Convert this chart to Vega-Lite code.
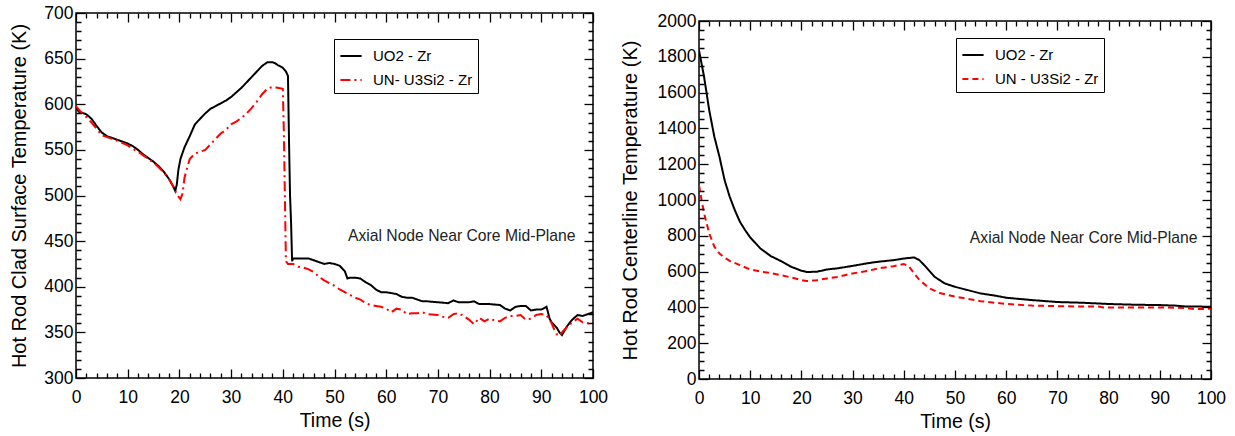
{
"$schema": "https://vega.github.io/schema/vega-lite/v6.json",
"padding": {"left": 9, "top": 3, "right": 0, "bottom": 0},
"spacing": 10,
"config": {
  "font": "Liberation Sans",
  "view": {"stroke": "black", "strokeWidth": 1.5},
  "axis": {"grid": false, "domain": false, "ticks": true, "tickColor": "#000000", "tickWidth": 1.3, "tickSize": 9, "labelColor": "black", "titleColor": "black", "labelFont": "Liberation Sans", "labelFontSize": 17.5, "titleFont": "Liberation Sans", "titleFontWeight": "normal", "titleFontSize": 20, "labelFlush": false, "labelOverlap": false},
  "legend": {"orient": "none", "title": null, "strokeColor": "black", "fillColor": "white", "padding": 5, "symbolType": "stroke", "symbolSize": 450, "symbolStrokeWidth": 2, "labelFontSize": 15, "labelFont": "Liberation Sans", "labelColor": "black", "rowPadding": 4, "labelOffset": 10}
},
"resolve": {"scale": {"color": "independent", "strokeDash": "independent", "x": "independent", "y": "independent"}},
"hconcat": [
{
  "width": 517, "height": 365,
  "resolve": {"axis": {"x": "independent", "y": "independent"}},
  "layer": [
    {
      "data": {"values": [
{"t":0,"temp":597,"series":"UO2 - Zr"},{"t":0.5,"temp":592,"series":"UO2 - Zr"},{"t":2,"temp":589,"series":"UO2 - Zr"},{"t":3,"temp":584,"series":"UO2 - Zr"},{"t":4,"temp":576,"series":"UO2 - Zr"},{"t":5,"temp":569,"series":"UO2 - Zr"},{"t":6,"temp":565,"series":"UO2 - Zr"},{"t":7,"temp":563,"series":"UO2 - Zr"},{"t":8,"temp":561,"series":"UO2 - Zr"},{"t":10,"temp":557,"series":"UO2 - Zr"},{"t":11,"temp":554,"series":"UO2 - Zr"},{"t":12,"temp":550,"series":"UO2 - Zr"},{"t":13,"temp":545,"series":"UO2 - Zr"},{"t":14,"temp":541,"series":"UO2 - Zr"},{"t":15,"temp":537,"series":"UO2 - Zr"},{"t":16,"temp":532,"series":"UO2 - Zr"},{"t":17,"temp":526,"series":"UO2 - Zr"},{"t":18,"temp":518,"series":"UO2 - Zr"},{"t":18.8,"temp":510,"series":"UO2 - Zr"},{"t":19.2,"temp":505,"series":"UO2 - Zr"},{"t":19.5,"temp":512,"series":"UO2 - Zr"},{"t":19.8,"temp":528,"series":"UO2 - Zr"},{"t":20.2,"temp":540,"series":"UO2 - Zr"},{"t":21,"temp":553,"series":"UO2 - Zr"},{"t":22,"temp":565,"series":"UO2 - Zr"},{"t":23,"temp":578,"series":"UO2 - Zr"},{"t":24,"temp":584,"series":"UO2 - Zr"},{"t":25,"temp":590,"series":"UO2 - Zr"},{"t":26,"temp":595,"series":"UO2 - Zr"},{"t":27,"temp":598,"series":"UO2 - Zr"},{"t":28,"temp":601,"series":"UO2 - Zr"},{"t":29,"temp":604,"series":"UO2 - Zr"},{"t":30,"temp":608,"series":"UO2 - Zr"},{"t":31,"temp":613,"series":"UO2 - Zr"},{"t":32,"temp":618,"series":"UO2 - Zr"},{"t":33,"temp":624,"series":"UO2 - Zr"},{"t":34,"temp":630,"series":"UO2 - Zr"},{"t":35,"temp":636,"series":"UO2 - Zr"},{"t":36,"temp":642,"series":"UO2 - Zr"},{"t":37,"temp":646,"series":"UO2 - Zr"},{"t":38,"temp":646,"series":"UO2 - Zr"},{"t":38.5,"temp":645,"series":"UO2 - Zr"},{"t":39,"temp":643,"series":"UO2 - Zr"},{"t":40,"temp":640,"series":"UO2 - Zr"},{"t":40.6,"temp":636,"series":"UO2 - Zr"},{"t":41,"temp":631,"series":"UO2 - Zr"},{"t":41.2,"temp":560,"series":"UO2 - Zr"},{"t":41.4,"temp":500,"series":"UO2 - Zr"},{"t":41.6,"temp":470,"series":"UO2 - Zr"},{"t":41.8,"temp":428,"series":"UO2 - Zr"},{"t":42,"temp":431,"series":"UO2 - Zr"},{"t":43,"temp":431,"series":"UO2 - Zr"},{"t":44,"temp":431,"series":"UO2 - Zr"},{"t":45,"temp":431,"series":"UO2 - Zr"},{"t":46,"temp":429,"series":"UO2 - Zr"},{"t":47,"temp":427,"series":"UO2 - Zr"},{"t":48,"temp":425,"series":"UO2 - Zr"},{"t":49,"temp":426,"series":"UO2 - Zr"},{"t":50,"temp":425,"series":"UO2 - Zr"},{"t":51,"temp":423,"series":"UO2 - Zr"},{"t":52,"temp":417,"series":"UO2 - Zr"},{"t":52.5,"temp":409,"series":"UO2 - Zr"},{"t":53,"temp":410,"series":"UO2 - Zr"},{"t":54,"temp":410,"series":"UO2 - Zr"},{"t":55,"temp":409,"series":"UO2 - Zr"},{"t":56,"temp":405,"series":"UO2 - Zr"},{"t":57,"temp":402,"series":"UO2 - Zr"},{"t":58,"temp":397,"series":"UO2 - Zr"},{"t":59,"temp":394,"series":"UO2 - Zr"},{"t":60,"temp":394,"series":"UO2 - Zr"},{"t":61,"temp":393,"series":"UO2 - Zr"},{"t":62,"temp":392,"series":"UO2 - Zr"},{"t":63,"temp":389,"series":"UO2 - Zr"},{"t":64,"temp":388,"series":"UO2 - Zr"},{"t":65,"temp":388,"series":"UO2 - Zr"},{"t":66,"temp":386,"series":"UO2 - Zr"},{"t":67,"temp":384,"series":"UO2 - Zr"},{"t":68,"temp":384,"series":"UO2 - Zr"},{"t":70,"temp":383,"series":"UO2 - Zr"},{"t":72,"temp":382,"series":"UO2 - Zr"},{"t":73,"temp":385,"series":"UO2 - Zr"},{"t":74,"temp":383,"series":"UO2 - Zr"},{"t":75,"temp":383,"series":"UO2 - Zr"},{"t":76,"temp":383,"series":"UO2 - Zr"},{"t":77,"temp":384,"series":"UO2 - Zr"},{"t":78,"temp":381,"series":"UO2 - Zr"},{"t":80,"temp":381,"series":"UO2 - Zr"},{"t":82,"temp":380,"series":"UO2 - Zr"},{"t":83,"temp":376,"series":"UO2 - Zr"},{"t":84,"temp":374,"series":"UO2 - Zr"},{"t":85,"temp":378,"series":"UO2 - Zr"},{"t":86,"temp":379,"series":"UO2 - Zr"},{"t":87,"temp":379,"series":"UO2 - Zr"},{"t":88,"temp":374,"series":"UO2 - Zr"},{"t":89,"temp":375,"series":"UO2 - Zr"},{"t":90,"temp":375,"series":"UO2 - Zr"},{"t":91,"temp":378,"series":"UO2 - Zr"},{"t":91.3,"temp":372,"series":"UO2 - Zr"},{"t":91.6,"temp":365,"series":"UO2 - Zr"},{"t":92,"temp":361,"series":"UO2 - Zr"},{"t":92.5,"temp":358,"series":"UO2 - Zr"},{"t":93,"temp":355,"series":"UO2 - Zr"},{"t":93.5,"temp":350,"series":"UO2 - Zr"},{"t":94,"temp":347,"series":"UO2 - Zr"},{"t":94.5,"temp":352,"series":"UO2 - Zr"},{"t":95,"temp":357,"series":"UO2 - Zr"},{"t":96,"temp":364,"series":"UO2 - Zr"},{"t":97,"temp":369,"series":"UO2 - Zr"},{"t":98,"temp":368,"series":"UO2 - Zr"},{"t":99,"temp":370,"series":"UO2 - Zr"},{"t":100,"temp":372,"series":"UO2 - Zr"},
{"t":0,"temp":598,"series":"UN- U3Si2 - Zr"},{"t":1,"temp":591,"series":"UN- U3Si2 - Zr"},{"t":2,"temp":586,"series":"UN- U3Si2 - Zr"},{"t":3,"temp":580,"series":"UN- U3Si2 - Zr"},{"t":4,"temp":573,"series":"UN- U3Si2 - Zr"},{"t":5,"temp":566,"series":"UN- U3Si2 - Zr"},{"t":6,"temp":564,"series":"UN- U3Si2 - Zr"},{"t":7,"temp":562,"series":"UN- U3Si2 - Zr"},{"t":8,"temp":560,"series":"UN- U3Si2 - Zr"},{"t":10,"temp":555,"series":"UN- U3Si2 - Zr"},{"t":11,"temp":551,"series":"UN- U3Si2 - Zr"},{"t":12,"temp":548,"series":"UN- U3Si2 - Zr"},{"t":13,"temp":544,"series":"UN- U3Si2 - Zr"},{"t":14,"temp":540,"series":"UN- U3Si2 - Zr"},{"t":15,"temp":536,"series":"UN- U3Si2 - Zr"},{"t":16,"temp":531,"series":"UN- U3Si2 - Zr"},{"t":17,"temp":525,"series":"UN- U3Si2 - Zr"},{"t":18,"temp":518,"series":"UN- U3Si2 - Zr"},{"t":19,"temp":508,"series":"UN- U3Si2 - Zr"},{"t":19.5,"temp":501,"series":"UN- U3Si2 - Zr"},{"t":20.2,"temp":496,"series":"UN- U3Si2 - Zr"},{"t":20.6,"temp":502,"series":"UN- U3Si2 - Zr"},{"t":21,"temp":520,"series":"UN- U3Si2 - Zr"},{"t":21.5,"temp":530,"series":"UN- U3Si2 - Zr"},{"t":22,"temp":540,"series":"UN- U3Si2 - Zr"},{"t":23,"temp":546,"series":"UN- U3Si2 - Zr"},{"t":24,"temp":548,"series":"UN- U3Si2 - Zr"},{"t":25,"temp":550,"series":"UN- U3Si2 - Zr"},{"t":26,"temp":556,"series":"UN- U3Si2 - Zr"},{"t":27,"temp":562,"series":"UN- U3Si2 - Zr"},{"t":28,"temp":568,"series":"UN- U3Si2 - Zr"},{"t":29,"temp":572,"series":"UN- U3Si2 - Zr"},{"t":30,"temp":578,"series":"UN- U3Si2 - Zr"},{"t":31,"temp":581,"series":"UN- U3Si2 - Zr"},{"t":32,"temp":585,"series":"UN- U3Si2 - Zr"},{"t":33,"temp":590,"series":"UN- U3Si2 - Zr"},{"t":34,"temp":596,"series":"UN- U3Si2 - Zr"},{"t":35,"temp":603,"series":"UN- U3Si2 - Zr"},{"t":36,"temp":611,"series":"UN- U3Si2 - Zr"},{"t":37,"temp":617,"series":"UN- U3Si2 - Zr"},{"t":38,"temp":619,"series":"UN- U3Si2 - Zr"},{"t":39,"temp":618,"series":"UN- U3Si2 - Zr"},{"t":40,"temp":617,"series":"UN- U3Si2 - Zr"},{"t":40.2,"temp":570,"series":"UN- U3Si2 - Zr"},{"t":40.4,"temp":500,"series":"UN- U3Si2 - Zr"},{"t":40.6,"temp":428,"series":"UN- U3Si2 - Zr"},{"t":41,"temp":425,"series":"UN- U3Si2 - Zr"},{"t":42,"temp":425,"series":"UN- U3Si2 - Zr"},{"t":43,"temp":422,"series":"UN- U3Si2 - Zr"},{"t":44,"temp":421,"series":"UN- U3Si2 - Zr"},{"t":45,"temp":419,"series":"UN- U3Si2 - Zr"},{"t":46,"temp":416,"series":"UN- U3Si2 - Zr"},{"t":47,"temp":411,"series":"UN- U3Si2 - Zr"},{"t":48,"temp":407,"series":"UN- U3Si2 - Zr"},{"t":49,"temp":404,"series":"UN- U3Si2 - Zr"},{"t":50,"temp":401,"series":"UN- U3Si2 - Zr"},{"t":51,"temp":397,"series":"UN- U3Si2 - Zr"},{"t":52,"temp":394,"series":"UN- U3Si2 - Zr"},{"t":53,"temp":391,"series":"UN- U3Si2 - Zr"},{"t":54,"temp":388,"series":"UN- U3Si2 - Zr"},{"t":55,"temp":386,"series":"UN- U3Si2 - Zr"},{"t":56,"temp":382,"series":"UN- U3Si2 - Zr"},{"t":57,"temp":380,"series":"UN- U3Si2 - Zr"},{"t":58,"temp":379,"series":"UN- U3Si2 - Zr"},{"t":59,"temp":378,"series":"UN- U3Si2 - Zr"},{"t":60,"temp":376,"series":"UN- U3Si2 - Zr"},{"t":61,"temp":372,"series":"UN- U3Si2 - Zr"},{"t":62,"temp":376,"series":"UN- U3Si2 - Zr"},{"t":63,"temp":375,"series":"UN- U3Si2 - Zr"},{"t":64,"temp":370,"series":"UN- U3Si2 - Zr"},{"t":65,"temp":371,"series":"UN- U3Si2 - Zr"},{"t":66,"temp":371,"series":"UN- U3Si2 - Zr"},{"t":67,"temp":372,"series":"UN- U3Si2 - Zr"},{"t":68,"temp":370,"series":"UN- U3Si2 - Zr"},{"t":70,"temp":369,"series":"UN- U3Si2 - Zr"},{"t":71,"temp":367,"series":"UN- U3Si2 - Zr"},{"t":72,"temp":366,"series":"UN- U3Si2 - Zr"},{"t":73,"temp":370,"series":"UN- U3Si2 - Zr"},{"t":74,"temp":371,"series":"UN- U3Si2 - Zr"},{"t":75,"temp":368,"series":"UN- U3Si2 - Zr"},{"t":76,"temp":364,"series":"UN- U3Si2 - Zr"},{"t":77,"temp":359,"series":"UN- U3Si2 - Zr"},{"t":78,"temp":366,"series":"UN- U3Si2 - Zr"},{"t":79,"temp":362,"series":"UN- U3Si2 - Zr"},{"t":80,"temp":365,"series":"UN- U3Si2 - Zr"},{"t":81,"temp":363,"series":"UN- U3Si2 - Zr"},{"t":82,"temp":362,"series":"UN- U3Si2 - Zr"},{"t":83,"temp":366,"series":"UN- U3Si2 - Zr"},{"t":84,"temp":368,"series":"UN- U3Si2 - Zr"},{"t":85,"temp":368,"series":"UN- U3Si2 - Zr"},{"t":86,"temp":369,"series":"UN- U3Si2 - Zr"},{"t":87,"temp":364,"series":"UN- U3Si2 - Zr"},{"t":88,"temp":365,"series":"UN- U3Si2 - Zr"},{"t":89,"temp":369,"series":"UN- U3Si2 - Zr"},{"t":90,"temp":370,"series":"UN- U3Si2 - Zr"},{"t":91,"temp":369,"series":"UN- U3Si2 - Zr"},{"t":92,"temp":360,"series":"UN- U3Si2 - Zr"},{"t":92.5,"temp":353,"series":"UN- U3Si2 - Zr"},{"t":93,"temp":348,"series":"UN- U3Si2 - Zr"},{"t":93.5,"temp":346,"series":"UN- U3Si2 - Zr"},{"t":94,"temp":350,"series":"UN- U3Si2 - Zr"},{"t":95,"temp":356,"series":"UN- U3Si2 - Zr"},{"t":96,"temp":361,"series":"UN- U3Si2 - Zr"},{"t":97,"temp":365,"series":"UN- U3Si2 - Zr"},{"t":98,"temp":361,"series":"UN- U3Si2 - Zr"},{"t":99,"temp":360,"series":"UN- U3Si2 - Zr"},{"t":100,"temp":359,"series":"UN- U3Si2 - Zr"}
      ]},
      "mark": {"type": "line", "strokeWidth": 2, "clip": true},
      "encoding": {
        "x": {"field": "t", "type": "quantitative", "scale": {"domain": [0, 100], "nice": false},
              "axis": {"orient": "bottom", "offset": -9, "zindex": 1, "ticks": true, "tickSize": 9, "tickColor": "#000000", "tickOpacity": 1, "tickWidth": 1.3,
                       "title": "Time (s)", "titleFontSize": 19.5, "titlePadding": 6, "labelPadding": 10,
                       "values": [0,2,4,6,8,10,12,14,16,18,20,22,24,26,28,30,32,34,36,38,40,42,44,46,48,50,52,54,56,58,60,62,64,66,68,70,72,74,76,78,80,82,84,86,88,90,92,94,96,98,100],
                       "labelExpr": "datum.value % 10 === 0 ? datum.label : ''",
                       "tickDash": {"condition": {"test": "datum.value % 10 !== 0", "value": [0, 4, 5, 0]}, "value": [9, 0]}}},
        "y": {"field": "temp", "type": "quantitative", "scale": {"domain": [300, 700], "nice": false, "zero": false},
              "axis": {"orient": "left", "offset": -9, "zindex": 1, "ticks": true, "tickSize": 9, "tickColor": "#000000", "tickOpacity": 1, "tickWidth": 1.3,
                       "title": "Hot Rod Clad Surface Temperature (K)", "titlePadding": 14, "labelPadding": 3,
                       "values": [300,310,320,330,340,350,360,370,380,390,400,410,420,430,440,450,460,470,480,490,500,510,520,530,540,550,560,570,580,590,600,610,620,630,640,650,660,670,680,690,700],
                       "labelExpr": "datum.value % 50 === 0 ? datum.label : ''",
                       "tickDash": {"condition": {"test": "datum.value % 50 !== 0", "value": [0, 4, 5, 0]}, "value": [9, 0]}}},
        "color": {"field": "series", "type": "nominal", "scale": {"domain": ["UO2 - Zr", "UN- U3Si2 - Zr"], "range": ["#000000", "#ff0000"]},
                  "legend": {"legendX": 258, "legendY": 26}},
        "strokeDash": {"field": "series", "type": "nominal", "scale": {"domain": ["UO2 - Zr", "UN- U3Si2 - Zr"], "range": [[1, 0], [10, 4, 2, 4]]},
                  "legend": {"legendX": 258, "legendY": 26}}
      }
    },
    {
      "data": {"values": [{"t": 52.6, "temp": 456, "note": "Axial Node Near Core Mid-Plane"}]},
      "mark": {"type": "text", "align": "left", "baseline": "middle", "fontSize": 15.7, "font": "Liberation Sans", "color": "#222222"},
      "encoding": {
        "x": {"field": "t", "type": "quantitative", "scale": {"domain": [0, 100], "nice": false},
              "axis": {"orient": "top", "offset": -9, "zindex": 1, "ticks": true, "tickSize": 9, "tickColor": "#000000", "tickOpacity": 1, "tickWidth": 1.3, "title": null, "labels": false,
                       "values": [0,2,4,6,8,10,12,14,16,18,20,22,24,26,28,30,32,34,36,38,40,42,44,46,48,50,52,54,56,58,60,62,64,66,68,70,72,74,76,78,80,82,84,86,88,90,92,94,96,98,100],
                       "tickDash": {"condition": {"test": "datum.value % 10 !== 0", "value": [0, 4, 5, 0]}, "value": [9, 0]}}},
        "y": {"field": "temp", "type": "quantitative", "scale": {"domain": [300, 700], "nice": false, "zero": false},
              "axis": {"orient": "right", "offset": -9, "zindex": 1, "ticks": true, "tickSize": 9, "tickColor": "#000000", "tickOpacity": 1, "tickWidth": 1.3, "title": null, "labels": false,
                       "values": [300,310,320,330,340,350,360,370,380,390,400,410,420,430,440,450,460,470,480,490,500,510,520,530,540,550,560,570,580,590,600,610,620,630,640,650,660,670,680,690,700],
                       "tickDash": {"condition": {"test": "datum.value % 50 !== 0", "value": [0, 4, 5, 0]}, "value": [9, 0]}}},
        "text": {"field": "note", "type": "nominal"}
      }
    }
  ]
},
{
  "spacing": -3,
  "vconcat": [
    {
      "width": 512, "height": 1,
      "view": {"stroke": null},
      "data": {"values": []},
      "mark": "point"
    },
    {
      "width": 512, "height": 358,
      "resolve": {"axis": {"x": "independent", "y": "independent"}},
      "layer": [
        {
          "data": {"values": [
{"t":0,"temp":1836,"series":"UO2 - Zr"},{"t":1,"temp":1687,"series":"UO2 - Zr"},{"t":2,"temp":1501,"series":"UO2 - Zr"},{"t":3,"temp":1353,"series":"UO2 - Zr"},{"t":4,"temp":1241,"series":"UO2 - Zr"},{"t":5,"temp":1111,"series":"UO2 - Zr"},{"t":6,"temp":1018,"series":"UO2 - Zr"},{"t":7,"temp":943,"series":"UO2 - Zr"},{"t":8,"temp":878,"series":"UO2 - Zr"},{"t":9,"temp":832,"series":"UO2 - Zr"},{"t":10,"temp":791,"series":"UO2 - Zr"},{"t":12,"temp":729,"series":"UO2 - Zr"},{"t":14,"temp":687,"series":"UO2 - Zr"},{"t":16,"temp":659,"series":"UO2 - Zr"},{"t":18,"temp":627,"series":"UO2 - Zr"},{"t":20,"temp":605,"series":"UO2 - Zr"},{"t":21,"temp":598,"series":"UO2 - Zr"},{"t":23,"temp":599,"series":"UO2 - Zr"},{"t":25,"temp":612,"series":"UO2 - Zr"},{"t":27,"temp":618,"series":"UO2 - Zr"},{"t":30,"temp":632,"series":"UO2 - Zr"},{"t":33,"temp":647,"series":"UO2 - Zr"},{"t":35,"temp":655,"series":"UO2 - Zr"},{"t":38,"temp":664,"series":"UO2 - Zr"},{"t":40,"temp":673,"series":"UO2 - Zr"},{"t":42,"temp":679,"series":"UO2 - Zr"},{"t":43,"temp":665,"series":"UO2 - Zr"},{"t":44,"temp":636,"series":"UO2 - Zr"},{"t":46,"temp":571,"series":"UO2 - Zr"},{"t":48,"temp":534,"series":"UO2 - Zr"},{"t":50,"temp":515,"series":"UO2 - Zr"},{"t":52,"temp":500,"series":"UO2 - Zr"},{"t":55,"temp":478,"series":"UO2 - Zr"},{"t":58,"temp":465,"series":"UO2 - Zr"},{"t":60,"temp":454,"series":"UO2 - Zr"},{"t":65,"temp":441,"series":"UO2 - Zr"},{"t":70,"temp":430,"series":"UO2 - Zr"},{"t":75,"temp":426,"series":"UO2 - Zr"},{"t":80,"temp":419,"series":"UO2 - Zr"},{"t":85,"temp":415,"series":"UO2 - Zr"},{"t":90,"temp":413,"series":"UO2 - Zr"},{"t":93,"temp":410,"series":"UO2 - Zr"},{"t":95,"temp":405,"series":"UO2 - Zr"},{"t":100,"temp":404,"series":"UO2 - Zr"},
{"t":0,"temp":1083,"series":"UN - U3Si2 - Zr"},{"t":0.5,"temp":1000,"series":"UN - U3Si2 - Zr"},{"t":1,"temp":925,"series":"UN - U3Si2 - Zr"},{"t":2,"temp":813,"series":"UN - U3Si2 - Zr"},{"t":3,"temp":739,"series":"UN - U3Si2 - Zr"},{"t":4,"temp":701,"series":"UN - U3Si2 - Zr"},{"t":5,"temp":678,"series":"UN - U3Si2 - Zr"},{"t":6,"temp":660,"series":"UN - U3Si2 - Zr"},{"t":8,"temp":636,"series":"UN - U3Si2 - Zr"},{"t":10,"temp":612,"series":"UN - U3Si2 - Zr"},{"t":12,"temp":600,"series":"UN - U3Si2 - Zr"},{"t":14,"temp":592,"series":"UN - U3Si2 - Zr"},{"t":16,"temp":580,"series":"UN - U3Si2 - Zr"},{"t":18,"temp":567,"series":"UN - U3Si2 - Zr"},{"t":20,"temp":553,"series":"UN - U3Si2 - Zr"},{"t":21,"temp":547,"series":"UN - U3Si2 - Zr"},{"t":23,"temp":552,"series":"UN - U3Si2 - Zr"},{"t":25,"temp":562,"series":"UN - U3Si2 - Zr"},{"t":27,"temp":570,"series":"UN - U3Si2 - Zr"},{"t":30,"temp":590,"series":"UN - U3Si2 - Zr"},{"t":33,"temp":604,"series":"UN - U3Si2 - Zr"},{"t":35,"temp":618,"series":"UN - U3Si2 - Zr"},{"t":38,"temp":630,"series":"UN - U3Si2 - Zr"},{"t":40,"temp":642,"series":"UN - U3Si2 - Zr"},{"t":41,"temp":630,"series":"UN - U3Si2 - Zr"},{"t":42,"temp":590,"series":"UN - U3Si2 - Zr"},{"t":43,"temp":555,"series":"UN - U3Si2 - Zr"},{"t":45,"temp":506,"series":"UN - U3Si2 - Zr"},{"t":47,"temp":480,"series":"UN - U3Si2 - Zr"},{"t":50,"temp":460,"series":"UN - U3Si2 - Zr"},{"t":55,"temp":435,"series":"UN - U3Si2 - Zr"},{"t":60,"temp":419,"series":"UN - U3Si2 - Zr"},{"t":65,"temp":410,"series":"UN - U3Si2 - Zr"},{"t":70,"temp":407,"series":"UN - U3Si2 - Zr"},{"t":75,"temp":405,"series":"UN - U3Si2 - Zr"},{"t":78,"temp":405,"series":"UN - U3Si2 - Zr"},{"t":79,"temp":400,"series":"UN - U3Si2 - Zr"},{"t":80,"temp":400,"series":"UN - U3Si2 - Zr"},{"t":90,"temp":400,"series":"UN - U3Si2 - Zr"},{"t":95,"temp":397,"series":"UN - U3Si2 - Zr"},{"t":97,"temp":390,"series":"UN - U3Si2 - Zr"},{"t":100,"temp":393,"series":"UN - U3Si2 - Zr"}
          ]},
          "mark": {"type": "line", "strokeWidth": 2, "clip": true},
          "encoding": {
            "x": {"field": "t", "type": "quantitative", "scale": {"domain": [0, 100], "nice": false},
                  "axis": {"orient": "bottom", "offset": -9, "zindex": 1, "ticks": true, "tickSize": 9, "tickColor": "#000000", "tickOpacity": 1, "tickWidth": 1.3,
                           "title": "Time (s)", "titleFontSize": 19.5, "titlePadding": 6, "labelPadding": 10,
                           "values": [0,2,4,6,8,10,12,14,16,18,20,22,24,26,28,30,32,34,36,38,40,42,44,46,48,50,52,54,56,58,60,62,64,66,68,70,72,74,76,78,80,82,84,86,88,90,92,94,96,98,100],
                           "labelExpr": "datum.value % 10 === 0 ? datum.label : ''",
                           "tickDash": {"condition": {"test": "datum.value % 10 !== 0", "value": [0, 4, 5, 0]}, "value": [9, 0]}}},
            "y": {"field": "temp", "type": "quantitative", "scale": {"domain": [0, 2000], "nice": false},
                  "axis": {"orient": "left", "offset": -9, "zindex": 1, "ticks": true, "tickSize": 9, "tickColor": "#000000", "tickOpacity": 1, "tickWidth": 1.3,
                           "title": "Hot Rod Centerline Temperature (K)", "titlePadding": 17, "labelPadding": 3, "format": "d",
                           "values": [0,50,100,150,200,250,300,350,400,450,500,550,600,650,700,750,800,850,900,950,1000,1050,1100,1150,1200,1250,1300,1350,1400,1450,1500,1550,1600,1650,1700,1750,1800,1850,1900,1950,2000],
                           "labelExpr": "datum.value % 200 === 0 ? datum.label : ''",
                           "tickDash": {"condition": {"test": "datum.value % 200 !== 0", "value": [0, 4, 5, 0]}, "value": [9, 0]}}},
            "color": {"field": "series", "type": "nominal", "scale": {"domain": ["UO2 - Zr", "UN - U3Si2 - Zr"], "range": ["#000000", "#ff0000"]},
                      "legend": {"legendX": 257, "legendY": 25}},
            "strokeDash": {"field": "series", "type": "nominal", "scale": {"domain": ["UO2 - Zr", "UN - U3Si2 - Zr"], "range": [[1, 0], [6, 4]]},
                      "legend": {"legendX": 257, "legendY": 25}}
          }
        },
        {
          "data": {"values": [{"t": 52.9, "temp": 789, "note": "Axial Node Near Core Mid-Plane"}]},
          "mark": {"type": "text", "align": "left", "baseline": "middle", "fontSize": 15.7, "font": "Liberation Sans", "color": "#222222"},
          "encoding": {
            "x": {"field": "t", "type": "quantitative", "scale": {"domain": [0, 100], "nice": false},
                  "axis": {"orient": "top", "offset": -9, "zindex": 1, "ticks": true, "tickSize": 9, "tickColor": "#000000", "tickOpacity": 1, "tickWidth": 1.3, "title": null, "labels": false,
                           "values": [0,2,4,6,8,10,12,14,16,18,20,22,24,26,28,30,32,34,36,38,40,42,44,46,48,50,52,54,56,58,60,62,64,66,68,70,72,74,76,78,80,82,84,86,88,90,92,94,96,98,100],
                           "tickDash": {"condition": {"test": "datum.value % 10 !== 0", "value": [0, 4, 5, 0]}, "value": [9, 0]}}},
            "y": {"field": "temp", "type": "quantitative", "scale": {"domain": [0, 2000], "nice": false},
                  "axis": {"orient": "right", "offset": -9, "zindex": 1, "ticks": true, "tickSize": 9, "tickColor": "#000000", "tickOpacity": 1, "tickWidth": 1.3, "title": null, "labels": false,
                           "values": [0,50,100,150,200,250,300,350,400,450,500,550,600,650,700,750,800,850,900,950,1000,1050,1100,1150,1200,1250,1300,1350,1400,1450,1500,1550,1600,1650,1700,1750,1800,1850,1900,1950,2000],
                           "tickDash": {"condition": {"test": "datum.value % 200 !== 0", "value": [0, 4, 5, 0]}, "value": [9, 0]}}},
            "text": {"field": "note", "type": "nominal"}
          }
        }
      ]
    }
  ]
}
]
}
